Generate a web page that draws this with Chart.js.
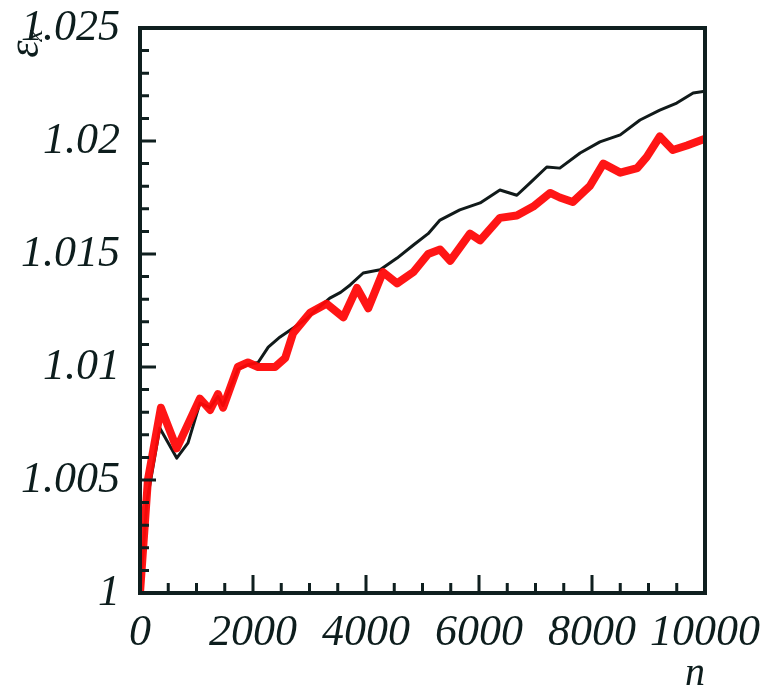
<!DOCTYPE html>
<html>
<head>
<meta charset="utf-8">
<script src="https://cdn.jsdelivr.net/npm/chart.js@4/dist/chart.umd.min.js"></script>
<style>
  html, body { margin: 0; padding: 0; background: #fff; }
  #wrap { width: 769px; height: 688px; }
</style>
</head>
<body>
<div id="wrap"><canvas id="myChart" width="769" height="688"></canvas></div>
<script>
// values
var blackN = [0, 120, 350, 650, 850, 1060, 1240, 1380, 1470, 1730, 1910, 2090, 2270, 2480, 2700, 2920, 3150, 3360, 3550, 3720, 3950, 4250, 4550, 4840, 5100, 5310, 5660, 6020, 6370, 6670, 6900, 7200, 7430, 7790, 8140, 8500, 8850, 9200, 9500, 9790, 10000];
var blackV = [1.0, 1.0040, 1.0073, 1.00597, 1.00664, 1.0084, 1.0082, 1.0087, 1.0083, 1.0099, 1.0101, 1.0102, 1.01088, 1.01133, 1.0117, 1.01208, 1.0126, 1.01305, 1.0133, 1.01363, 1.01416, 1.0143, 1.01482, 1.0154, 1.0159, 1.0165, 1.01695, 1.01726, 1.01783, 1.0176, 1.01814, 1.01885, 1.0188, 1.01947, 1.01996, 1.02027, 1.02093, 1.02137, 1.02168, 1.02212, 1.0222];

var redN = [0, 140, 370, 650, 1060, 1240, 1380, 1470, 1730, 1910, 2090, 2390, 2570, 2710, 3010, 3300, 3600, 3840, 4040, 4300, 4550, 4840, 5100, 5310, 5490, 5840, 6020, 6370, 6670, 6960, 7260, 7430, 7660, 7960, 8200, 8500, 8800, 8970, 9200, 9430, 9680, 10000];
var redV = [1.0, 1.005, 1.0082, 1.0064, 1.0086, 1.0081, 1.0088, 1.0082, 1.0100, 1.0102, 1.0100, 1.0100, 1.0104, 1.0115, 1.0124, 1.0128, 1.0122, 1.0135, 1.0126, 1.0142, 1.0137, 1.0142, 1.0150, 1.0152, 1.0147, 1.0159, 1.0156, 1.0166, 1.0167, 1.0171, 1.0177, 1.0175, 1.0173, 1.0180, 1.0190, 1.0186, 1.0188, 1.0193, 1.0202, 1.0196, 1.0198, 1.0201];

var xTicks = [0, 2000, 4000, 6000, 8000, 10000];
var yTicks = [1, 1.005, 1.01, 1.015, 1.02, 1.025];

function pairs(xs, ys) {
    var out = [];
    for (var i = 0; i < xs.length; i++) out.push({x: xs[i], y: ys[i]});
    return out;
}

var axisColor = '#0f1f1f';
var labelFont = {family: '"Liberation Serif", "Times New Roman", serif', style: 'italic', size: 44};

// inward ticks + frame, the library has no inward ticks
var frameTicks = {
    id: 'frameTicks',
    afterDatasetsDraw: function(chart) {
        var c = chart.ctx, a = chart.chartArea;
        var xs = chart.scales.x, ys = chart.scales.y;
        c.save();
        c.strokeStyle = axisColor;
        c.lineWidth = 3;
        c.beginPath();
        for (var n = 0; n <= 10000; n += 500) {
            var px = xs.getPixelForValue(n);
            var len = (n % 2000 === 0) ? 18 : 10;
            c.moveTo(px, a.bottom);
            c.lineTo(px, a.bottom - len);
        }
        for (var k = 0; k <= 25; k++) {
            var py = ys.getPixelForValue(1 + k * 0.001);
            var l2 = (k % 5 === 0) ? 16 : 9;
            c.moveTo(a.left, py);
            c.lineTo(a.left + l2, py);
        }
        c.stroke();
        c.lineWidth = 4;
        c.strokeRect(a.left, a.top, a.right - a.left, a.bottom - a.top);
        c.restore();
    }
};

var ctx = document.getElementById('myChart').getContext('2d');
var myChart = new Chart(ctx, {
    type: 'line',
    data: {
        datasets: [{
            label: 'black',
            data: pairs(blackN, blackV),
            borderColor: '#111a1a',
            borderWidth: 3,
            borderJoinStyle: 'round',
            pointRadius: 0,
            tension: 0,
            order: 2
        }, {
            label: 'red',
            data: pairs(redN, redV),
            borderColor: 'rgba(255, 8, 8, 0.95)',
            borderWidth: 8,
            borderJoinStyle: 'round',
            pointRadius: 0,
            tension: 0,
            order: 1
        }]
    },
    options: {
        responsive: false,
        animation: false,
        layout: {padding: {top: 28, right: 64, bottom: 0, left: 0}},
        plugins: {legend: {display: false}, tooltip: {enabled: false}},
        scales: {
            x: {
                type: 'linear',
                min: 0, max: 10000,
                grid: {display: false, drawTicks: false},
                border: {display: false},
                afterBuildTicks: function(s) { s.ticks = xTicks.map(function(v) { return {value: v}; }); },
                afterFit: function(s) { s.height = 95; s.paddingLeft = 0; s.paddingRight = 0; },
                ticks: {
                    padding: 14,
                    color: '#0d1d1d',
                    font: labelFont,
                    maxRotation: 0,
                    autoSkip: false,
                    callback: function(v) { return String(v); }
                },
                title: {
                    display: true,
                    text: 'n',
                    align: 'end',
                    color: '#0d1d1d',
                    font: {family: '"Liberation Serif", serif', style: 'italic', size: 40},
                    padding: {top: 0, bottom: -10}
                }
            },
            y: {
                type: 'linear',
                min: 1, max: 1.025,
                grid: {display: false, drawTicks: false},
                border: {display: false},
                afterBuildTicks: function(s) { s.ticks = yTicks.map(function(v) { return {value: v}; }); },
                afterFit: function(s) { s.width = 140; s.paddingTop = 0; s.paddingBottom = 0; },
                ticks: {
                    padding: 20,
                    color: '#0d1d1d',
                    font: labelFont,
                    callback: function(v) { return String(parseFloat(Number(v).toFixed(3))); }
                },
                title: {
                    display: true,
                    text: 'ε\u2093',
                    align: 'end',
                    color: '#0d1d1d',
                    font: {family: '"Liberation Serif", serif', style: 'italic', size: 44},
                    padding: {top: 0, bottom: 0}
                }
            }
        }
    },
    plugins: [frameTicks]
});
</script>
</body>
</html>
